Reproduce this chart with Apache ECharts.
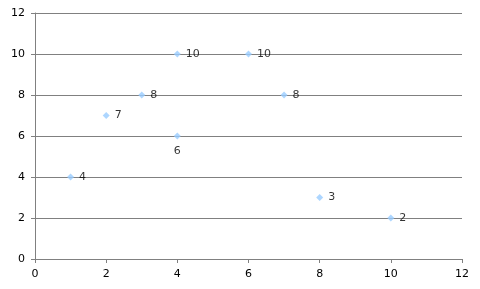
<!DOCTYPE html>
<html><head><meta charset="utf-8">
<script src="https://cdn.jsdelivr.net/npm/echarts@6/dist/echarts.min.js"></script>
<style>html,body{margin:0;padding:0;background:#fff}#c{width:480px;height:289px}</style>
</head><body><div id="c"></div>
<script>
const xValues = [1, 2, 3, 4, 4, 6, 7, 8, 10];
const yValues = [4, 7, 8, 10, 6, 10, 8, 3, 2];
const labelPositions = ['right','right','right','right','bottom','right','right','right','right'];

const chart = echarts.init(document.getElementById('c'), null, {renderer:'canvas'});
const font = 'DejaVu Sans';
const data = xValues.map((x, i) => ({
  value: [x, yValues[i]],
  label: { position: labelPositions[i], distance: labelPositions[i]==='bottom' ? 6 : 5 }
}));
const axisCommon = {
  type: 'value', min: 0, max: 12, interval: 2,
  axisLine: { show: true, lineStyle: { color: '#808080', width: 1 } },
  axisTick: { show: true, length: 4, lineStyle: { color: '#808080' } },
  axisLabel: { color: '#000', fontFamily: font, fontSize: 11 },
  splitLine: { show: false }
};
chart.setOption({
  animation: false,
  grid: { left: 35, right: 18, top: 13, bottom: 30 },
  xAxis: Object.assign({}, axisCommon, { axisLabel: Object.assign({}, axisCommon.axisLabel, { margin: 10 }) }),
  yAxis: Object.assign({}, axisCommon, {
    axisLabel: Object.assign({}, axisCommon.axisLabel, { margin: 10 }),
    splitLine: { show: true, lineStyle: { color: '#808080', width: 1 } }
  }),
  series: [{
    type: 'scatter',
    symbol: 'diamond',
    symbolSize: 7,
    itemStyle: { color: '#99ccff' },
    label: {
      show: true, color: '#000', fontFamily: font, fontSize: 11,
      formatter: p => p.value[1]
    },
    data: data
  }]
});
</script></body></html>
